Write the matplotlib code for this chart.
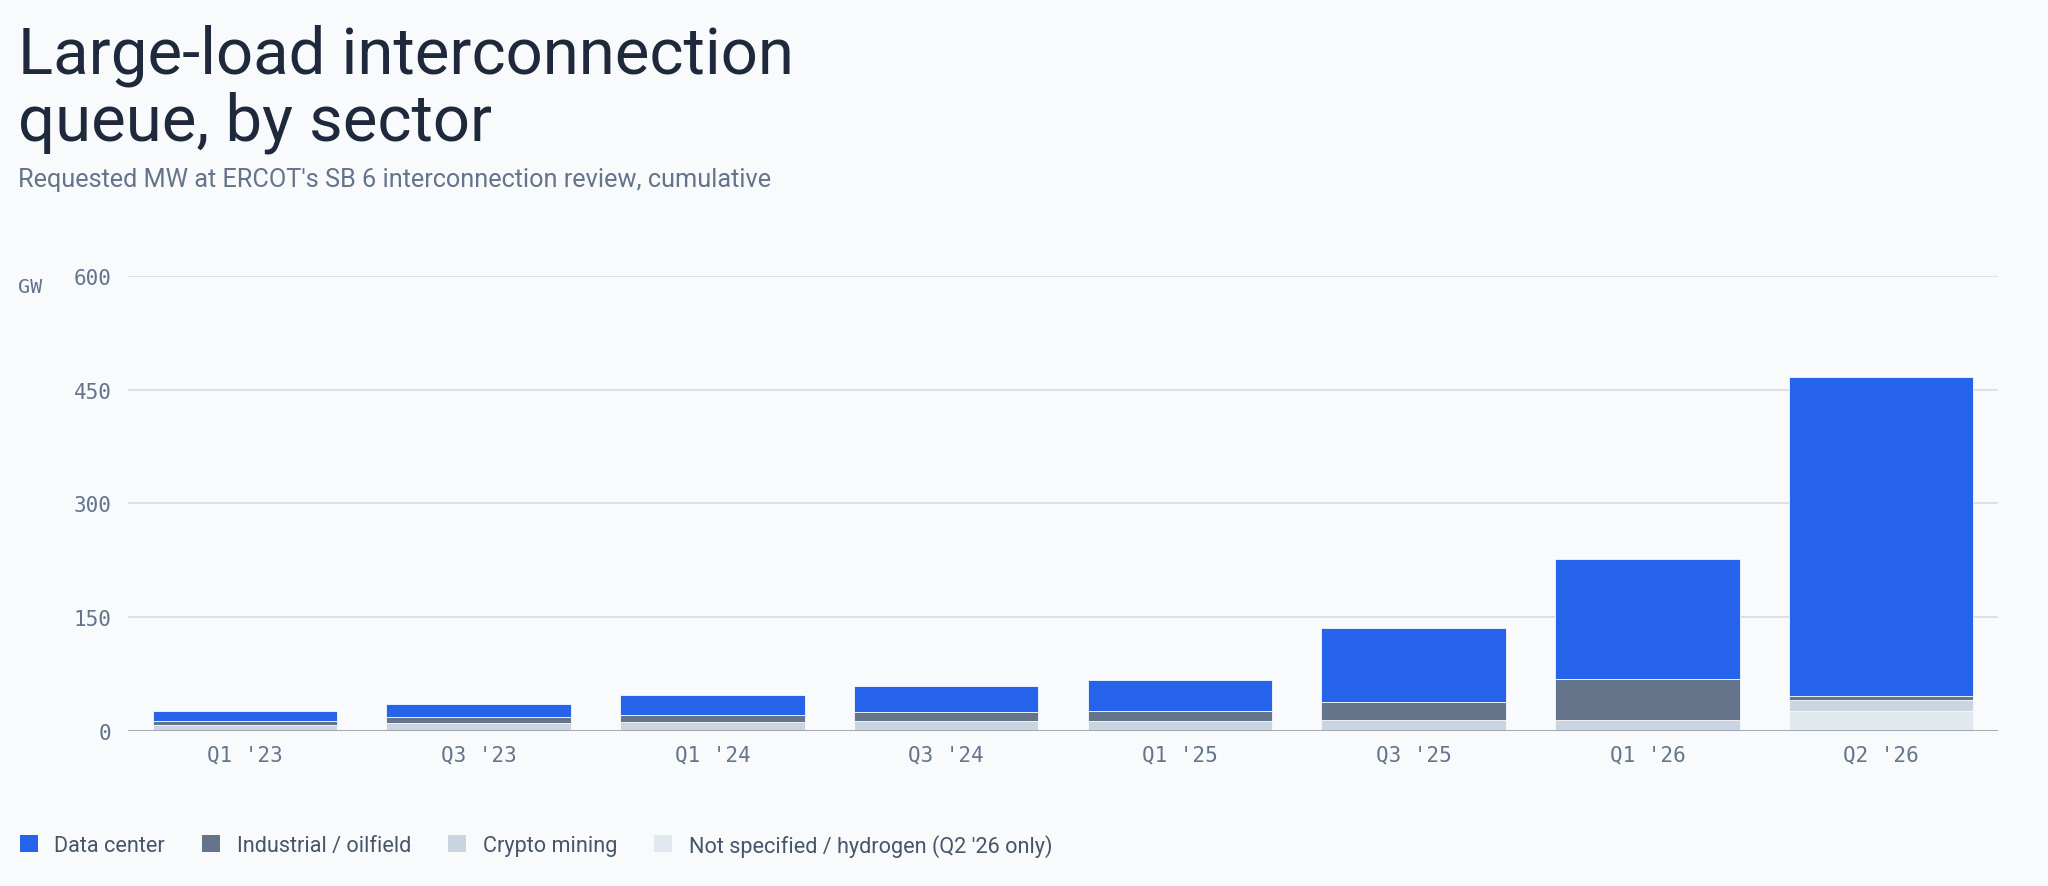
"""
Large-load interconnection queue at ERCOT, stacked by sector
"""

import matplotlib.pyplot as plt
from matplotlib.patches import Patch

# values in GW
quarters = ["Q1 '23", "Q3 '23", "Q1 '24", "Q3 '24", "Q1 '25", "Q3 '25", "Q1 '26", "Q2 '26"]
not_specified = [0, 0, 0, 0, 0, 0, 0, 25.5]
crypto = [7, 10, 11.5, 13, 12.5, 14, 14, 15]
industrial = [6, 8, 9.5, 12, 14, 24, 54.5, 5]
data_center = [12.5, 17.5, 25.5, 34.5, 41, 97.5, 157.5, 421.5]

series_labels = ["Data center", "Industrial / oilfield", "Crypto mining",
                 "Not specified / hydrogen (Q2 '26 only)"]
yticks = [0, 150, 300, 450, 600]

BG = "#f8fafc"
C_DC = "#2563eb"
C_IND = "#64748b"
C_CRYPTO = "#cbd5e1"
C_NS = "#e2e8f0"
SANS = ["Roboto", "DejaVu Sans"]
MONO = ["DejaVu Sans Mono"]


def plot():
    fig = plt.figure(figsize=(20.48, 8.87), dpi=100, facecolor=BG)
    ax = fig.add_axes([0.0625, 0.1751, 0.9131, 0.5126], facecolor=BG)

    x = range(len(quarters))
    w = 0.79
    edge = dict(edgecolor=BG, linewidth=0.6)
    b0 = [0] * len(quarters)
    ax.bar(x, not_specified, w, bottom=b0, color=C_NS, zorder=3, **edge)
    b1 = [a + b for a, b in zip(b0, not_specified)]
    ax.bar(x, crypto, w, bottom=b1, color=C_CRYPTO, zorder=3, **edge)
    b2 = [a + b for a, b in zip(b1, crypto)]
    ax.bar(x, industrial, w, bottom=b2, color=C_IND, zorder=3, **edge)
    b3 = [a + b for a, b in zip(b2, industrial)]
    ax.bar(x, data_center, w, bottom=b3, color=C_DC, zorder=3, **edge)

    ax.set_xlim(-0.5, len(quarters) - 0.5)
    ax.set_ylim(0, 600)
    ax.set_yticks(yticks)
    ax.set_xticks(list(x))
    ax.set_xticklabels(quarters)
    ax.grid(axis="y", color="#dde1e6", linewidth=1.4, zorder=0)
    ax.axhline(0, color="#9aa3af", linewidth=2, zorder=4)
    for s in ax.spines.values():
        s.set_visible(False)
    ax.tick_params(axis="both", length=0, labelcolor="#64748b", labelsize=15)
    ax.tick_params(axis="x", pad=10)
    ax.tick_params(axis="y", pad=12)
    for lab in ax.get_xticklabels() + ax.get_yticklabels():
        lab.set_family(MONO)

    # headings
    fig.text(0.0088, 0.9166, "Large-load interconnection", family=SANS,
             fontsize=47, color="#1e293b", va="baseline")
    fig.text(0.0088, 0.842, "queue, by sector", family=SANS,
             fontsize=47, color="#1e293b", va="baseline")
    fig.text(0.0088, 0.789, "Requested MW at ERCOT's SB 6 interconnection review, cumulative",
             family=SANS, fontsize=18.2, color="#64748b", va="baseline")
    fig.text(0.0088, 0.6764, "GW", family=MONO, fontsize=14.5, color="#64748b", va="center")

    handles = [Patch(facecolor=c, edgecolor="none") for c in (C_DC, C_IND, C_CRYPTO, C_NS)]
    leg = fig.legend(handles, series_labels, loc="center left", bbox_to_anchor=(0.0053, 0.0462),
                     ncol=4, frameon=False, handlelength=0.83, handleheight=0.83,
                     handletextpad=0.78, columnspacing=1.7, borderaxespad=0,
                     prop={"family": SANS, "size": 15.6})
    for t in leg.get_texts():
        t.set_color("#475569")

    fig.savefig("out.png", dpi=100, facecolor=BG)


if __name__ == "__main__":
    plot()
